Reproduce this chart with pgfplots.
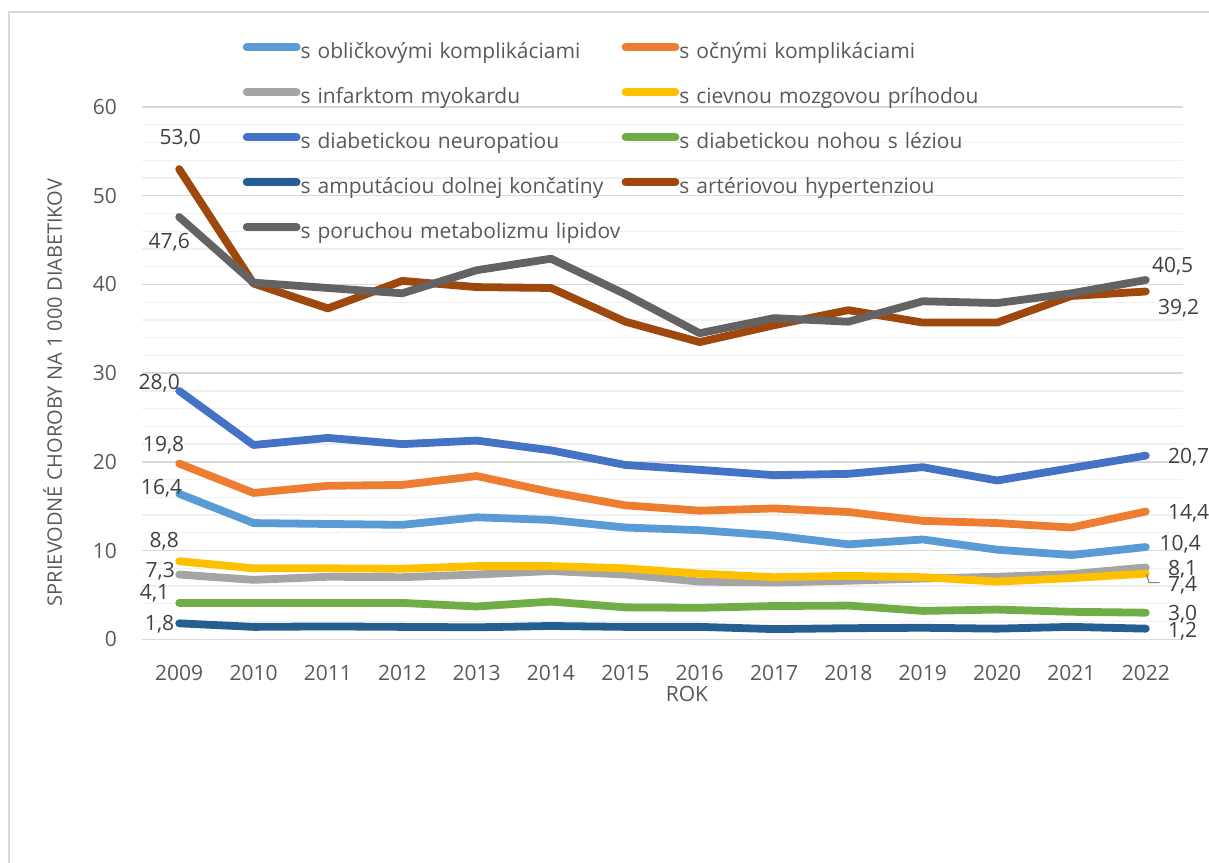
\documentclass[border=0pt]{standalone}
\usepackage{fontspec}
\setmainfont{Open Sans}
\usepackage{pgfplots}
\pgfplotsset{compat=1.18}
\definecolor{cKid}{HTML}{5B9BD5}
\definecolor{cEye}{HTML}{ED7D31}
\definecolor{cMI}{HTML}{A5A5A5}
\definecolor{cStr}{HTML}{FFC000}
\definecolor{cNeu}{HTML}{4472C4}
\definecolor{cFoot}{HTML}{70AD47}
\definecolor{cAmp}{HTML}{255E91}
\definecolor{cHyp}{HTML}{9E480E}
\definecolor{cLip}{HTML}{636363}
\definecolor{txt}{HTML}{595959}
\definecolor{lab}{HTML}{404040}
\definecolor{frame}{HTML}{D9D9D9}
\begin{document}
\begin{tikzpicture}[font=\fontsize{21bp}{25bp}\selectfont]
\useasboundingbox (0,0) rectangle (1209bp,863bp);
\draw[color=frame, line width=1.3bp] (9bp,-20bp) |- (1240bp,851bp);
\begin{axis}[
  at={(142bp,223.7bp)}, anchor=south west,
  scale only axis, width=1041bp, height=532.3bp,
  xmin=2008.5, xmax=2022.5, ymin=0, ymax=60,
  xtick={2009,2010,...,2022}, ytick={0,10,...,60},
  minor y tick num=4,
  ymajorgrids, yminorgrids,
  major grid style={color=frame, line width=1.3bp},
  minor grid style={color=black!6, line width=1.3bp},
  axis line style={draw=none},
  major tick length=0pt, minor tick length=0pt,
  tick style={draw=none},
  /pgf/number format/assume math mode=true,
  /pgf/number format/1000 sep={},
  every tick label/.append style={font=\fontsize{21bp}{25bp}\selectfont, color=txt},
  yticklabel style={inner sep=0pt, anchor=east, xshift=-25bp},
  xticklabel style={inner sep=0pt, anchor=north, yshift=-26bp},
  xlabel={ROK},
  xlabel style={at={(axis description cs:0.5235,0)}, anchor=north, inner sep=0pt, yshift=-46.7bp, color=txt, font=\fontsize{21bp}{25bp}\selectfont},
  ylabel={SPRIEVODNÉ CHOROBY NA 1 000 DIABETIKOV},
  ylabel style={at={(axis description cs:-0.0951,0.4637)}, rotate=0, anchor=north, inner sep=0pt, color=txt, font=\fontsize{20bp}{24bp}\selectfont},
  clip=false,
  every axis plot/.append style={line width=7.8bp, line join=round, line cap=round},
  legend columns=2,
  legend image code/.code={\draw[#1, line cap=round] (0bp,6bp) -- (50bp,6bp);},
  legend style={draw=none, fill=none, at={(0.0968,1.1208)}, anchor=north west,
    inner sep=0pt, outer sep=0pt, row sep=24bp,
    nodes={inner sep=0pt, text height=16bp, text depth=5bp, color=txt, font=\fontsize{21bp}{25bp}\selectfont},
    /tikz/every odd column/.append style={column sep=0bp},
    /tikz/every even column/.append style={text width=321bp, align=left}},
]
\addplot[color=cKid] coordinates {(2009,16.4)(2010,13.1)(2011,13.0)(2012,12.9)(2013,13.75)(2014,13.45)(2015,12.6)(2016,12.3)(2017,11.7)(2018,10.7)(2019,11.25)(2020,10.1)(2021,9.5)(2022,10.4)};
\addlegendentry{s obličkovými komplikáciami}
\addplot[color=cEye] coordinates {(2009,19.8)(2010,16.5)(2011,17.3)(2012,17.4)(2013,18.4)(2014,16.6)(2015,15.1)(2016,14.5)(2017,14.75)(2018,14.35)(2019,13.35)(2020,13.1)(2021,12.6)(2022,14.4)};
\addlegendentry{s očnými komplikáciami}
\addplot[color=cMI] coordinates {(2009,7.3)(2010,6.7)(2011,7.05)(2012,7.0)(2013,7.3)(2014,7.7)(2015,7.3)(2016,6.5)(2017,6.4)(2018,6.6)(2019,6.85)(2020,7.05)(2021,7.35)(2022,8.1)};
\addlegendentry{s infarktom myokardu}
\addplot[color=cStr] coordinates {(2009,8.8)(2010,8.0)(2011,8.0)(2012,7.95)(2013,8.25)(2014,8.25)(2015,8.0)(2016,7.4)(2017,7.0)(2018,7.15)(2019,7.0)(2020,6.5)(2021,6.9)(2022,7.4)};
\addlegendentry{s cievnou mozgovou príhodou}
\addplot[color=cNeu] coordinates {(2009,28.0)(2010,21.9)(2011,22.7)(2012,22.0)(2013,22.4)(2014,21.3)(2015,19.65)(2016,19.1)(2017,18.5)(2018,18.65)(2019,19.4)(2020,17.9)(2021,19.3)(2022,20.7)};
\addlegendentry{s diabetickou neuropatiou}
\addplot[color=cFoot] coordinates {(2009,4.1)(2010,4.1)(2011,4.1)(2012,4.1)(2013,3.7)(2014,4.25)(2015,3.6)(2016,3.55)(2017,3.75)(2018,3.8)(2019,3.2)(2020,3.35)(2021,3.1)(2022,3.0)};
\addlegendentry{s diabetickou nohou s léziou}
\addplot[color=cAmp] coordinates {(2009,1.8)(2010,1.4)(2011,1.45)(2012,1.4)(2013,1.35)(2014,1.5)(2015,1.4)(2016,1.4)(2017,1.15)(2018,1.25)(2019,1.3)(2020,1.2)(2021,1.4)(2022,1.2)};
\addlegendentry{s amputáciou dolnej končatiny}
\addplot[color=cHyp] coordinates {(2009,53.0)(2010,40.1)(2011,37.3)(2012,40.4)(2013,39.7)(2014,39.6)(2015,35.8)(2016,33.5)(2017,35.4)(2018,37.1)(2019,35.7)(2020,35.7)(2021,38.7)(2022,39.2)};
\addlegendentry{s artériovou hypertenziou}
\addplot[color=cLip] coordinates {(2009,47.6)(2010,40.2)(2011,39.6)(2012,39.0)(2013,41.6)(2014,42.9)(2015,38.9)(2016,34.5)(2017,36.2)(2018,35.8)(2019,38.1)(2020,37.9)(2021,39.0)(2022,40.5)};
\addlegendentry{s poruchou metabolizmu lipidov}
% data labels
\begin{scope}[every node/.style={inner sep=0pt, text height=15bp, text depth=0pt, color=lab, font=\fontsize{21bp}{25bp}\selectfont}]
\node[anchor=center, xshift=1bp, yshift=32bp] at (axis cs:2009,53.0) {53,0};
\node[anchor=center, xshift=-10bp, yshift=-24bp] at (axis cs:2009,47.6) {47,6};
\node[anchor=center, xshift=-20bp, yshift=9bp] at (axis cs:2009,28.0) {28,0};
\node[anchor=center, xshift=-15.6bp, yshift=19.7bp] at (axis cs:2009,19.8) {19,8};
\node[anchor=center, xshift=-17.6bp, yshift=7bp] at (axis cs:2009,16.4) {16,4};
\node[anchor=center, xshift=-15bp, yshift=21bp] at (axis cs:2009,8.8) {8,8};
\node[anchor=center, xshift=-19bp, yshift=5bp] at (axis cs:2009,7.3) {7,3};
\node[anchor=center, xshift=-24.6bp, yshift=11bp] at (axis cs:2009,4.1) {4,1};
\node[anchor=center, xshift=-19.6bp, yshift=0bp] at (axis cs:2009,1.8) {1,8};
\node[anchor=west, xshift=6bp, yshift=15bp] at (axis cs:2022,40.5) {40,5};
\node[anchor=west, xshift=12bp, yshift=-15bp] at (axis cs:2022,39.2) {39,2};
\node[anchor=west, xshift=22bp, yshift=0bp] at (axis cs:2022,20.7) {20,7};
\node[anchor=west, xshift=22bp, yshift=0bp] at (axis cs:2022,14.4) {14,4};
\node[anchor=west, xshift=13.7bp, yshift=3.7bp] at (axis cs:2022,10.4) {10,4};
\node[anchor=west, xshift=22bp, yshift=-1bp] at (axis cs:2022,8.1) {8,1};
\node[anchor=west, xshift=22bp, yshift=-10bp] at (axis cs:2022,7.4) {7,4};
\node[anchor=west, xshift=22bp, yshift=0bp] at (axis cs:2022,3.0) {3,0};
\node[anchor=west, xshift=22bp, yshift=-1bp] at (axis cs:2022,1.2) {1,2};
\end{scope}
\draw[color=cMI!80!black, line width=1.2bp] (axis cs:2022,7.4) ++(0.7bp,-0.5bp) -- ++(2.5bp,-8.5bp) -- ++(10.7bp,0bp);
\end{axis}
\end{tikzpicture}
\end{document}
